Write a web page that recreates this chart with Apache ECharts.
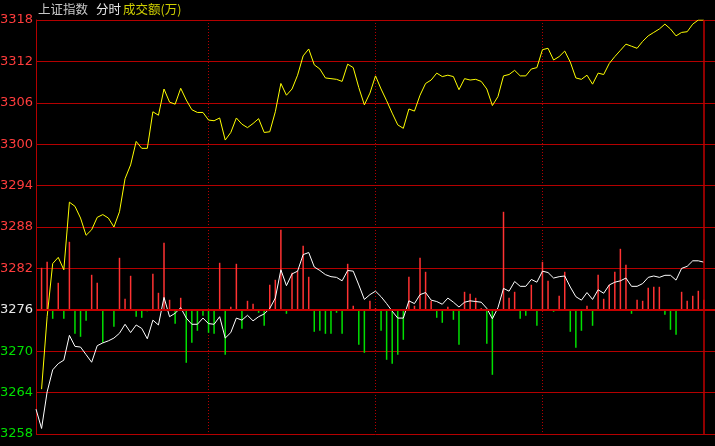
<!DOCTYPE html>
<html><head><meta charset="utf-8">
<script src="https://cdn.jsdelivr.net/npm/echarts@6/dist/echarts.min.js"></script>
<style>html,body{margin:0;padding:0;background:#000}#c{width:715px;height:446px}</style>
</head><body><div id="c"></div><script>
// price axis ticks
const priceTicks = [3258, 3264, 3270, 3276, 3282, 3288, 3294, 3300, 3306, 3312, 3318];
const preClose = 3276;
// slot index along the day (121 points drawn, 2 spare slots on the right)
const categories = Array.from({length: 123}, (_, i) => String(i));
// yellow line
const yellowLine = [null,
3264.5,3275.0,3282.7,3283.6,3281.8,3291.6,3291.0,3289.3,3286.8,3287.6,
3289.4,3289.8,3289.3,3288.0,3290.2,3295.0,3297.0,3300.4,3299.4,3299.4,
3304.7,3304.2,3308.0,3306.1,3305.8,3308.1,3306.4,3305.0,3304.6,3304.6,
3303.5,3303.4,3303.8,3300.6,3301.7,3303.8,3302.9,3302.4,3303.0,3303.7,
3301.7,3301.8,3304.7,3308.8,3307.1,3308.0,3310.0,3312.8,3313.8,3311.5,
3310.9,3309.6,3309.5,3309.4,3309.1,3311.6,3311.1,3308.2,3305.7,3307.4,
3309.9,3308.0,3306.3,3304.5,3302.8,3302.3,3305.1,3304.8,3307.1,3308.8,
3309.3,3310.3,3309.8,3310.0,3309.8,3307.9,3309.5,3309.3,3309.4,3309.1,
3308.0,3305.6,3306.9,3309.9,3310.1,3310.7,3309.9,3309.9,3310.9,3311.1,
3313.7,3313.9,3312.2,3312.7,3313.5,3311.9,3309.6,3309.4,3310.0,3308.7,
3310.3,3310.1,3311.7,3312.7,3313.6,3314.5,3314.2,3313.9,3314.9,3315.7,
3316.2,3316.7,3317.4,3316.7,3315.7,3316.2,3316.3,3317.4,3318.0,3318.0];
// white line
const whiteLine = [3261.6,
3258.8,3264.1,3267.3,3268.2,3268.7,3272.3,3270.7,3270.6,3269.5,3268.4,
3270.8,3271.2,3271.5,3271.9,3272.6,3273.9,3272.7,3273.8,3273.3,3271.8,
3274.5,3273.8,3277.8,3275.0,3275.5,3276.3,3274.8,3273.9,3273.9,3274.8,
3274.0,3273.9,3275.0,3271.9,3272.7,3274.8,3274.5,3275.2,3274.4,3275.0,
3275.4,3276.2,3277.7,3281.8,3279.5,3281.2,3281.6,3284.0,3284.3,3282.2,
3281.7,3281.1,3280.8,3280.7,3280.2,3281.7,3281.6,3279.6,3277.5,3278.2,
3278.7,3277.9,3276.9,3275.8,3274.8,3274.8,3277.3,3276.9,3278.2,3278.5,
3277.4,3277.2,3276.8,3277.7,3277.1,3276.4,3277.1,3277.3,3277.2,3277.1,
3276.2,3274.7,3276.3,3279.1,3278.7,3280.1,3279.4,3279.4,3280.4,3280.0,
3281.6,3281.4,3280.6,3280.8,3280.9,3279.3,3277.9,3277.4,3278.5,3277.5,
3278.9,3278.4,3279.6,3280.0,3280.2,3280.6,3279.4,3279.4,3279.8,3280.7,
3280.9,3280.7,3281.0,3281.0,3280.3,3282.0,3282.3,3283.1,3283.1,3282.9];
// red/green strength bars
const strengthBars = [0,
42,48,-9,27,-9,68,-24,-27,-11,35,
27,-33,0,-17,52,11,34,-7,-8,-1.5,
36,17,67,10,-14,12,-53,-33,-21,-6,
-23,-24,47,-45,3,46,-19,9,6,-3,
-16,25,30,80,-4,37,39,64,33,-22,
-21,-24,-24,-3,-24,46,4,-35,-43,9,
1.5,-21,-50,-54,-45,-30,33,4,52,38,
9,-8,-13,3,-10,-35,18,16,12,1.5,
-34,-65,0,98,12,18,-9,-6,25,-16,
48,29,-2,14,38,-22,-38,-21,4,-16,
35,11,25,38,61,45,-4,10,9,22,
23,23,-5,-20,-25,18,9,14,19,10];
const hourMarks = [31, 61, 91];
const lastIndex = 120;

const gridRed = '#b40000';
const chart = echarts.init(document.getElementById('c'), null, {renderer: 'canvas'});
chart.setOption({
  backgroundColor: '#000',
  animation: false,
  graphic: [
    {type: 'text', left: 38, top: 3, style: {text: '上证指数', fill: '#c8c8c8', font: '12.5px "Noto Sans CJK SC"'}},
    {type: 'text', left: 96, top: 3, style: {text: '分时', fill: '#e8e8e8', font: '12.5px "Noto Sans CJK SC"'}},
    {type: 'text', left: 123, top: 3, style: {text: '成交额(万)', fill: '#d0d000', font: '12.5px "Noto Sans CJK SC"'}}
  ],
  grid: {left: 36, right: 0, top: 20, bottom: 12, containLabel: false, outerBoundsMode: 'none'},
  xAxis: {
    type: 'category', data: categories, boundaryGap: false,
    axisLine: {show: false}, axisTick: {show: false}, axisLabel: {show: false},
    splitLine: {show: true, interval: (idx) => hourMarks.indexOf(idx) >= 0,
      lineStyle: {color: gridRed, width: 1, type: [1, 2]}}
  },
  yAxis: [{
    type: 'value', min: priceTicks[0], max: priceTicks[priceTicks.length - 1], interval: 6,
    axisLine: {show: true, lineStyle: {color: gridRed, width: 1}},
    axisTick: {show: false},
    axisLabel: {margin: 3, fontFamily: 'DejaVu Sans', fontSize: 13,
      formatter: (v) => String(v),
      color: (v) => (+v > preClose ? '#ff3c3c' : (+v < preClose ? '#00e000' : '#e8e8e8'))},
    splitLine: {show: true, lineStyle: {color: gridRed, width: 1}}
  }, {
    type: 'value', min: -124.2, max: 289.8, show: false,
    splitLine: {show: false}
  }],
  series: [{
    type: 'bar', yAxisIndex: 1, data: strengthBars, barWidth: 1.5,
    itemStyle: {color: (p) => (p.value >= 0 ? '#ff3232' : '#00e000')},
    silent: true
  }, {
    type: 'line', data: whiteLine, showSymbol: false, symbol: 'none',
    lineStyle: {color: '#ffffff', width: 1}, silent: true,
    markLine: {
      silent: true, symbol: 'none', label: {show: false},
      data: [
        {yAxis: preClose, lineStyle: {color: '#c80000', width: 2, type: 'solid'}},
        {xAxis: lastIndex, lineStyle: {color: '#c00000', width: 1.5, type: 'solid'}}
      ]
    }
  }, {
    type: 'line', data: yellowLine, showSymbol: false, symbol: 'none', connectNulls: false,
    lineStyle: {color: '#ffff00', width: 1}, silent: true
  }]
});
</script></body></html>
